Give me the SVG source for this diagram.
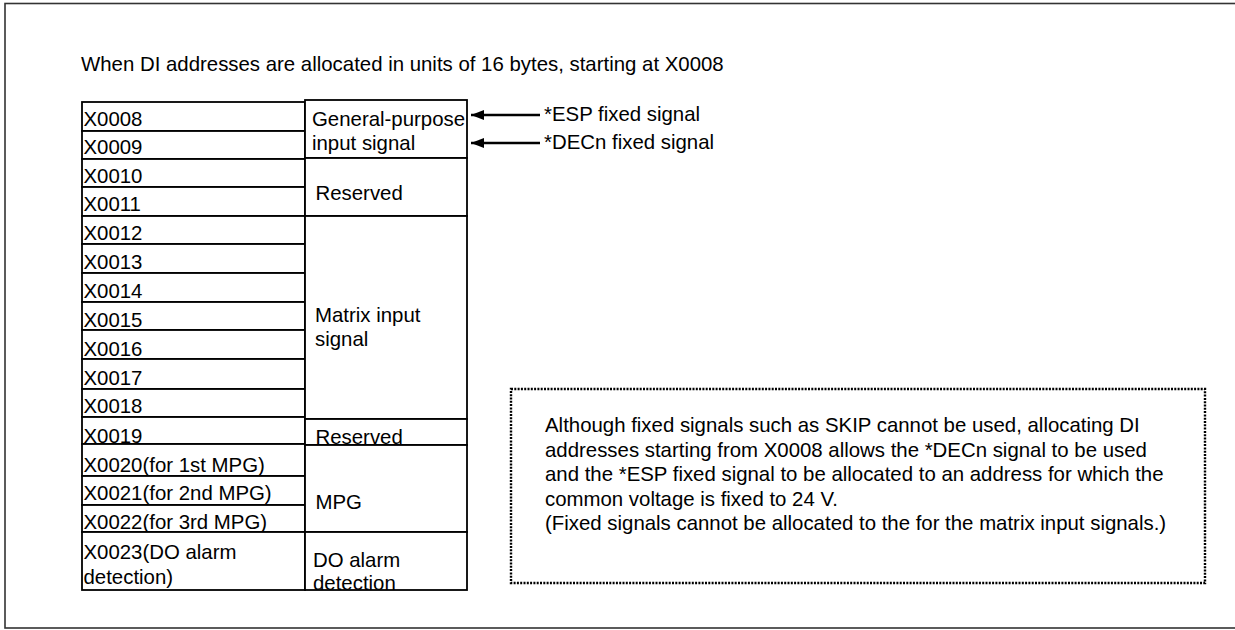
<svg xmlns="http://www.w3.org/2000/svg" width="1235" height="630" viewBox="0 0 1235 630">
<style>
text{font-family:"Liberation Sans",Arial,sans-serif;font-size:20.4px;fill:#000}
.cell{fill:#fff;stroke:#000;stroke-width:1.8}
.note{fill:none;stroke:#000;stroke-width:2.4;stroke-dasharray:2 1.3}
.arrow{stroke:#000;stroke-width:2.4;fill:none}
</style>
<defs>
<marker id="ah" markerUnits="userSpaceOnUse" markerWidth="14" markerHeight="11" refX="13" refY="5" orient="auto">
<path d="M0,0 L13,5 L0,10 z" fill="#000"/>
</marker>
</defs>
<rect x="0" y="0" width="1235" height="630" fill="#fff"/>
<rect x="5" y="3.5" width="1240" height="624.5" fill="none" stroke="#333" stroke-width="1.6"/>
<text id="title" x="81" y="71">When DI addresses are allocated in units of 16 bytes, starting at X0008</text>

<g id="addr-x0008"><rect class="cell" x="82" y="102" width="223" height="29"/><text x="83.5" y="126">X0008</text></g>
<g id="addr-x0009"><rect class="cell" x="82" y="131" width="223" height="28"/><text x="83.5" y="154">X0009</text></g>
<g id="addr-x0010"><rect class="cell" x="82" y="159" width="223" height="28"/><text x="83.5" y="182.5">X0010</text></g>
<g id="addr-x0011"><rect class="cell" x="82" y="187" width="223" height="29"/><text x="83.5" y="211">X0011</text></g>
<g id="addr-x0012"><rect class="cell" x="82" y="216" width="223" height="28"/><text x="83.5" y="240">X0012</text></g>
<g id="addr-x0013"><rect class="cell" x="82" y="244" width="223" height="29"/><text x="83.5" y="269">X0013</text></g>
<g id="addr-x0014"><rect class="cell" x="82" y="273" width="223" height="29"/><text x="83.5" y="298">X0014</text></g>
<g id="addr-x0015"><rect class="cell" x="82" y="302" width="223" height="28"/><text x="83.5" y="326.5">X0015</text></g>
<g id="addr-x0016"><rect class="cell" x="82" y="330" width="223" height="29"/><text x="83.5" y="355.5">X0016</text></g>
<g id="addr-x0017"><rect class="cell" x="82" y="359" width="223" height="30"/><text x="83.5" y="385">X0017</text></g>
<g id="addr-x0018"><rect class="cell" x="82" y="389" width="223" height="28"/><text x="83.5" y="413">X0018</text></g>
<g id="addr-x0019"><rect class="cell" x="82" y="417" width="223" height="27"/><text x="83.5" y="442.5">X0019</text></g>
<g id="addr-x0020"><rect class="cell" x="82" y="444" width="223" height="32"/><text x="83.5" y="471.5">X0020(for 1st MPG)</text></g>
<g id="addr-x0021"><rect class="cell" x="82" y="476" width="223" height="29"/><text x="83.5" y="500">X0021(for 2nd MPG)</text></g>
<g id="addr-x0022"><rect class="cell" x="82" y="505" width="223" height="27"/><text x="83.5" y="528.5">X0022(for 3rd MPG)</text></g>
<g id="addr-x0023"><rect class="cell" x="82" y="532" width="223" height="58"/><text x="83.5" y="559">X0023(DO alarm</text><text x="83.5" y="584">detection)</text></g>

<g id="grp-general"><rect class="cell" x="305" y="100" width="162" height="58"/><text x="312" y="125.5">General-purpose</text><text x="312" y="149.5">input signal</text></g>
<g id="grp-reserved1"><rect class="cell" x="305" y="158" width="162" height="58"/><text x="315.5" y="200">Reserved</text></g>
<g id="grp-matrix"><rect class="cell" x="305" y="216" width="162" height="203"/><text x="315" y="322">Matrix input</text><text x="315" y="345.5">signal</text></g>
<g id="grp-reserved2"><rect class="cell" x="305" y="419" width="162" height="26"/><text x="315.5" y="444">Reserved</text></g>
<g id="grp-mpg"><rect class="cell" x="305" y="445" width="162" height="87"/><text x="315.5" y="508.5">MPG</text></g>
<g id="grp-do"><rect class="cell" x="305" y="532" width="162" height="58"/><text x="313" y="566.5">DO alarm</text><text x="313" y="590">detection</text></g>

<g id="connectors">
<line class="arrow" x1="540" y1="115" x2="471" y2="115" marker-end="url(#ah)"/>
<line class="arrow" x1="540" y1="143" x2="471" y2="143" marker-end="url(#ah)"/>
</g>
<g id="lbl-esp"><text x="544" y="120.5">*ESP fixed signal</text></g>
<g id="lbl-decn"><text x="544" y="149">*DECn fixed signal</text></g>

<g id="note">
<rect class="note" x="511" y="389" width="694" height="194"/>
<text x="545" y="432">Although fixed signals such as SKIP cannot be used, allocating DI</text>
<text x="545" y="456.5">addresses starting from X0008 allows the *DECn signal to be used</text>
<text x="545" y="481">and the *ESP fixed signal to be allocated to an address for which the</text>
<text x="545" y="505.5">common voltage is fixed to 24 V.</text>
<text x="545" y="530">(Fixed signals cannot be allocated to the for the matrix input signals.)</text>
</g>
</svg>
